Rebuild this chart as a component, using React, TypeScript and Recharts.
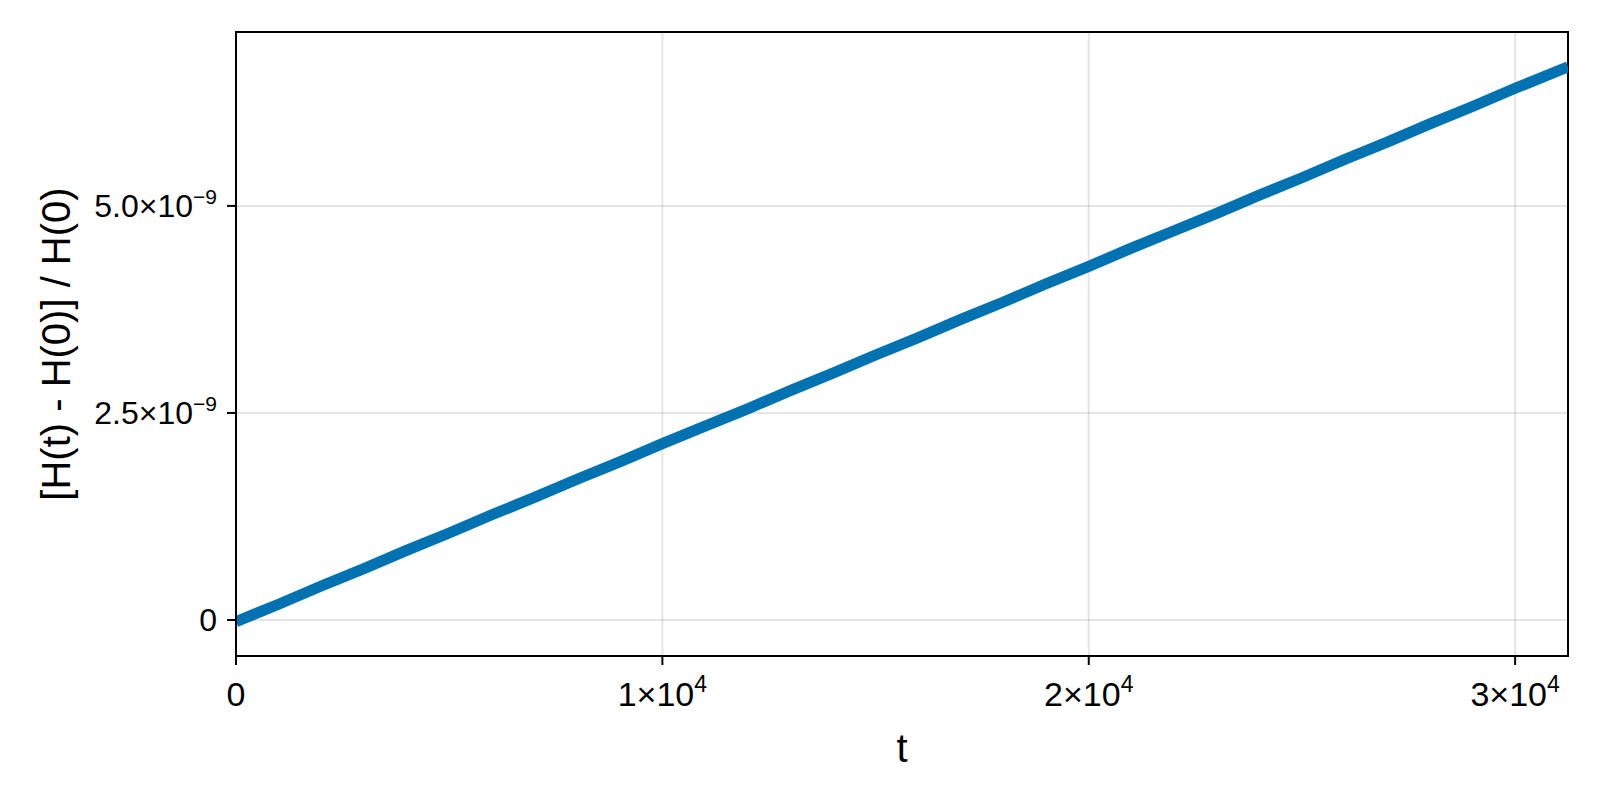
import { LineChart, Line, XAxis, YAxis, CartesianGrid, ReferenceArea } from 'recharts';

// t samples and relative energy error
const tValues = [
  0, 1000, 2000, 3000, 4000, 5000, 6000, 7000, 8000, 9000, 10000,
  11000, 12000, 13000, 14000, 15000, 16000, 17000, 18000, 19000, 20000,
  21000, 22000, 23000, 24000, 25000, 26000, 27000, 28000, 29000, 30000, 31240,
];
const energyError = [
  -0.02e-9, 0.19e-9, 0.41e-9, 0.62e-9, 0.84e-9, 1.05e-9, 1.27e-9, 1.48e-9, 1.70e-9, 1.91e-9, 2.13e-9,
  2.34e-9, 2.55e-9, 2.77e-9, 2.98e-9, 3.20e-9, 3.41e-9, 3.63e-9, 3.84e-9, 4.06e-9, 4.27e-9,
  4.49e-9, 4.70e-9, 4.91e-9, 5.13e-9, 5.34e-9, 5.56e-9, 5.77e-9, 5.99e-9, 6.20e-9, 6.42e-9, 6.68e-9,
];

const xTicks = [0, 10000, 20000, 30000];
const xTickLabels = [['0', ''], ['1×10', '4'], ['2×10', '4'], ['3×10', '4']];
const yTicks = [0, 2.5e-9, 5e-9];
const yTickLabels = [['0', ''], ['2.5×10', '−9'], ['5.0×10', '−9']];

const xDomain = [0, 31240];
const yDomain = [-0.435e-9, 7.1e-9];

const data = tValues.map((t, i) => ({ t, e: energyError[i] }));

const FONT = '"Liberation Sans", Arial, sans-serif';

function findLabel(ticks: number[], labels: string[][], v: number) {
  const i = ticks.findIndex((tk) => Math.abs(tk - v) < Math.abs(ticks[1] - ticks[0]) * 1e-3);
  return labels[i < 0 ? 0 : i];
}

function XTick(props: any) {
  const { x, y, payload } = props;
  const [base, exp] = findLabel(xTicks, xTickLabels, payload.value);
  return (
    <text x={x} y={y} dy="0.71em" textAnchor="middle" fontSize={34} fontFamily={FONT} fill="#000">
      <tspan>{base}</tspan>
      {exp && <tspan dy={-14} fontSize={23}>{exp}</tspan>}
    </text>
  );
}

function YTick(props: any) {
  const { x, y, payload } = props;
  const [base, exp] = findLabel(yTicks, yTickLabels, payload.value);
  return (
    <text x={x} y={y} dy="0.355em" textAnchor="end" fontSize={32} fontFamily={FONT} fill="#000">
      <tspan>{base}</tspan>
      {exp && <tspan dy={-13} fontSize={21}>{exp}</tspan>}
    </text>
  );
}

function YLabel(props: any) {
  const { viewBox } = props;
  const cx = viewBox.x + 56 - 86;
  const cy = viewBox.y + viewBox.height / 2;
  return (
    <text
      x={cx}
      y={cy}
      transform={`rotate(-90 ${cx} ${cy})`}
      textAnchor="middle"
      dominantBaseline="central"
      fontSize={40}
      fontFamily={FONT}
      fill="#000"
    >
      [H(t) - H(0)] / H(0)
    </text>
  );
}

export default function App() {
  return (
    <div style={{ position: 'absolute', left: 0, top: 0, width: 1600, height: 800, background: '#fff' }}>
      <LineChart
        width={1600}
        height={800}
        data={data}
        margin={{ top: 32, right: 32, left: 86, bottom: 54 }}
      >
        <CartesianGrid
          stroke="#000"
          strokeOpacity={0.1}
          strokeWidth={2}
          horizontalValues={yTicks}
          verticalValues={xTicks}
        />
        <XAxis
          dataKey="t"
          type="number"
          domain={xDomain}
          ticks={xTicks}
          allowDataOverflow
          height={90}
          tickSize={9}
          tickMargin={17}
          axisLine={{ stroke: '#000', strokeWidth: 2 }}
          tickLine={{ stroke: '#000', strokeWidth: 2 }}
          tick={<XTick />}
          label={{ value: 't', position: 'insideBottom', offset: -16, fontSize: 40, fontFamily: FONT, fill: '#000' }}
        />
        <YAxis
          type="number"
          domain={yDomain}
          ticks={yTicks}
          allowDataOverflow
          width={150}
          tickSize={9}
          tickMargin={10}
          axisLine={{ stroke: '#000', strokeWidth: 2 }}
          tickLine={{ stroke: '#000', strokeWidth: 2 }}
          tick={<YTick />}
          label={<YLabel />}
        />
        <Line
          type="linear"
          dataKey="e"
          stroke="#0072b2"
          strokeWidth={11}
          dot={false}
          isAnimationActive={false}
        />
        <ReferenceArea
          x1={xDomain[0]}
          x2={xDomain[1]}
          y1={yDomain[0]}
          y2={yDomain[1]}
          fill="none"
          fillOpacity={0}
          stroke="#000"
          strokeWidth={2}
          strokeOpacity={1}
        />
      </LineChart>
    </div>
  );
}
